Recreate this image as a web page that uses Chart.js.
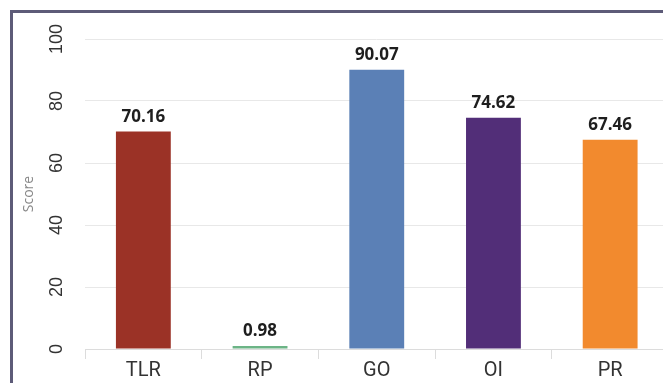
<!DOCTYPE html>
<html>
<head>
<meta charset="utf-8">
<script src="https://cdn.jsdelivr.net/npm/chart.js@4/dist/chart.umd.min.js"></script>
<style>
  html, body { margin: 0; padding: 0; background: #fff; overflow: hidden; }
  #frame { position: absolute; left: 10px; top: 10px; width: 700px; height: 400px;
           border-left: 3px solid #5d5b78; border-top: 3px solid #5d5b78; }
  #wrap { position: absolute; left: 0; top: 0; width: 670px; height: 383px; }
</style>
</head>
<body>
<div id="frame"></div>
<div id="wrap"><canvas id="scoreChart"></canvas></div>
<script>
var categories = ['TLR', 'RP', 'GO', 'OI', 'PR'];
var scores = [70.16, 0.98, 90.07, 74.62, 67.46];
var barColors = ['#9b3226', '#6cb486', '#5b80b6', '#522e78', '#f28a2e'];
var yTicks = [0, 20, 40, 60, 80, 100];

// value labels above each bar
var valueLabels = {
  id: 'valueLabels',
  afterDatasetsDraw: function (chart) {
    var ctx = chart.ctx;
    var meta = chart.getDatasetMeta(0);
    ctx.save();
    ctx.font = 'bold 17px "Open Sans"';
    ctx.fillStyle = '#1e1e1e';
    ctx.textAlign = 'center';
    ctx.textBaseline = 'alphabetic';
    meta.data.forEach(function (bar, i) {
      ctx.fillText(scores[i].toFixed(2), bar.x, bar.y - 10);
    });
    ctx.restore();
  }
};

var ctx = document.getElementById('scoreChart').getContext('2d');
var chart = new Chart(ctx, {
  type: 'bar',
  data: {
    labels: categories,
    datasets: [{
      label: 'Score',
      data: scores,
      backgroundColor: barColors,
      borderWidth: 0,
      barPercentage: 0.47,
      categoryPercentage: 1
    }]
  },
  options: {
    responsive: true,
    maintainAspectRatio: false,
    animation: false,
    layout: { padding: { top: 39, right: 1.5, left: 0, bottom: 0 } },
    plugins: {
      legend: { display: false },
      tooltip: { enabled: false }
    },
    scales: {
      x: {
        grid: {
          offset: true,
          drawOnChartArea: false,
          tickLength: 10,
          color: '#dcdcdc'
        },
        border: { color: '#dcdcdc' },
        ticks: {
          color: '#333',
          padding: 0,
          font: { family: 'Roboto', size: 20 }
        },
        afterFit: function (scale) { scale.height = 34; }
      },
      y: {
        min: 0,
        max: 100,
        afterBuildTicks: function (scale) {
          scale.ticks = yTicks.map(function (v) { return { value: v }; });
        },
        grid: { drawTicks: false, color: '#e8e8e8' },
        border: { display: false },
        ticks: {
          color: '#333',
          minRotation: 90,
          maxRotation: 90,
          crossAlign: 'center',
          padding: 13,
          font: { family: 'Liberation Sans', size: 18 }
        },
        title: {
          display: true,
          text: 'Score',
          color: '#888',
          font: { family: 'Open Sans', size: 14 },
          padding: { top: 21, bottom: 0 }
        },
        afterFit: function (scale) { scale.width = 85; }
      }
    }
  },
  plugins: [valueLabels]
});
</script>
</body>
</html>
